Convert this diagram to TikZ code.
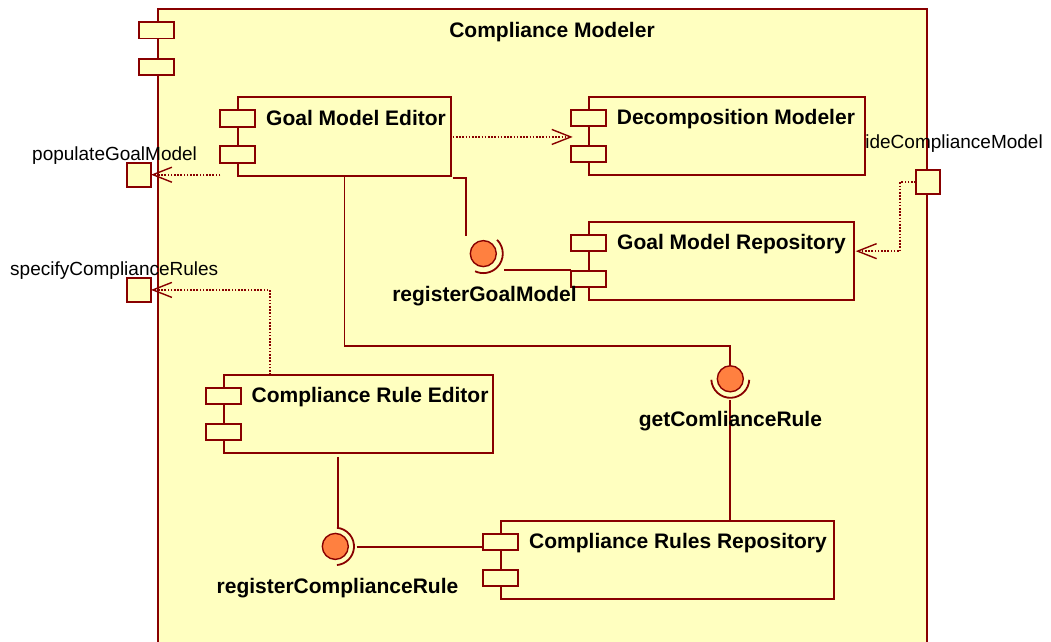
\documentclass[tikz,border=0pt]{standalone}
\usepackage{fontspec}
\setmainfont{Liberation Sans}
\usetikzlibrary{arrows.meta,calc}
\definecolor{umlred}{RGB}{136,0,0}
\definecolor{umlfill}{RGB}{255,255,192}
\definecolor{umlball}{RGB}{255,128,64}
\tikzset{
 compbody/.style={draw=umlred, fill=umlfill, line width=1.8pt, minimum height=78.5pt, inner sep=0pt, outer sep=0pt, anchor=north west},
 portbox/.style={draw=umlred, fill=umlfill, line width=1.8pt, minimum width=35pt, minimum height=16.5pt, inner sep=0pt, outer sep=0pt, anchor=north west},
 extport/.style={draw=umlred, fill=umlfill, line width=1.8pt, minimum width=24pt, minimum height=24pt, inner sep=0pt, outer sep=0pt},
 boldlabel/.style={font=\fontsize{21}{25}\selectfont\bfseries, inner sep=0pt, text=black},
 plainlabel/.style={font=\fontsize{19}{23}\selectfont, inner sep=0pt, text=black},
 conn/.style={draw=umlred, line width=1.8pt},
 dep/.style={draw=umlred, line width=1.6pt, dash pattern=on 1.6pt off 1.6pt, -{Straight Barb[length=19pt,width=15pt,line width=1.4pt]}},
 ball/.style={circle, draw=umlred, fill=umlball, line width=1.4pt, minimum size=26pt, inner sep=0pt, outer sep=0pt},
 socket/.style={draw=umlred, line width=1.8pt},
}
\newcommand{\umlcomp}[5]{%
  \node[compbody, minimum width=#4pt] (#1) at (#2,-#3) {};
  \node[portbox] (#1-p1) at ($(#1.north west)+(-18,-13)$) {};
  \node[portbox] (#1-p2) at ($(#1.north west)+(-18,-49)$) {};
  \node[boldlabel, anchor=base west] (#1-t) at ($(#1.north west)+(27.7,-27.7)$) {#5};
}
\begin{document}
\begin{tikzpicture}[x=1pt,y=1pt]
\useasboundingbox (0,0) rectangle (1051,-641);
\clip (0,0) rectangle (1051,-641);
\fill[white] (0,0) rectangle (1051,-641);
% container
\node[draw=umlred, fill=umlfill, line width=1.8pt, minimum width=769pt, minimum height=660pt, inner sep=0pt, outer sep=0pt, anchor=north west] (cm) at (158,-9.3) {};
\node[boldlabel, anchor=base] (cm-t) at (552,-37.5) {Compliance Modeler};
\node[portbox] (cm-p1) at (139.3,-22) {};
\node[portbox] (cm-p2) at (139.3,-58.7) {};
% external ports and labels
\node[plainlabel, anchor=base west] (pgm-l) at (32,-160.7) {populateGoalModel};
\node[plainlabel, anchor=base west] (scr-l) at (10,-275) {specifyComplianceRules};
\node[plainlabel, anchor=base east] (pcm-l) at (1043,-148.3) {provideComplianceModel};
\node[extport] (pgm) at (139,-174.7) {};
\node[extport] (scr) at (139,-289.9) {};
\node[extport] (pcm) at (927.8,-182) {};
% components
\umlcomp{gme}{238.3}{97.3}{212.4}{Goal Model Editor}
\umlcomp{dm}{589}{96.7}{276}{Decomposition Modeler}
\umlcomp{gmr}{589.3}{221.7}{264.7}{Goal Model Repository}
\umlcomp{cre}{223.7}{374.7}{269}{Compliance Rule Editor}
\umlcomp{crr}{501.3}{520.7}{332.4}{Compliance Rules Repository}
% dependencies
\draw[dep] ($(gme.east |- dm.west)+(2,-1)$) -- ($(dm-p1.west |- dm.west)+(1.7,-1)$);
\draw[dep] (gme-p2.west |- pgm.east) -- (pgm.east);
\draw[dep] ($(cre.north west)+(46.3,0)$) |- (scr.east);
\draw[dep] (pcm.west) -- ++(-15.7,0) |- ($(gmr.east)+(1.7,9.8)$);
% registerGoalModel
\node[ball] (rgm) at (483.3,-253.6) {};
\draw[socket] ($(rgm.center)+(45:19.5)$) arc[start angle=45, end angle=-115, radius=19.5];
\coordinate (rgm-t) at ($(rgm.center)+(-17.3,17.6)$);
\coordinate (rgm-r) at ($(rgm.center)+(20.7,-16.4)$);
\draw[conn] ($(gme.south east)+(2,-2.3)$) -| (rgm-t);
\draw[conn] (rgm-r) -- (rgm-r -| gmr-p2.west);
\node[boldlabel, anchor=base] (rgm-l) at (484.5,-301.7) {registerGoalModel};
% getComlianceRule
\node[ball] (gcr) at (730.3,-378.8) {};
\draw[socket] ($(gcr.center)+(183:19)$) arc[start angle=183, end angle=357, radius=19];
\draw[conn] (gme.south) -- ++(0,-170.3) -| (gcr.north);
\coordinate (gcr-b) at ($(gcr.center)+(0,-21.5)$);
\draw[conn] (gcr-b) -- (gcr-b |- crr.north);
\node[boldlabel, anchor=base] (gcr-l) at (730.4,-426) {getComlianceRule};
% registerComplianceRule
\node[ball] (rcr) at (335.3,-546.4) {};
\draw[socket] ($(rcr.center)+(85:18.7)$) arc[start angle=85, end angle=-85, radius=18.7];
\coordinate (rcr-t) at ($(rcr.center)+(2.7,18.1)$);
\coordinate (rcr-r) at ($(rcr.center)+(21.4,-0.6)$);
\coordinate (cre-d) at ($(rcr-t |- cre.south)+(0,-3.7)$);
\draw[conn] (cre-d) -- (rcr-t);
\draw[conn] (rcr-r) -- (rcr-r -| crr-p1.west);
\node[boldlabel, anchor=base] (rcr-l) at (337.5,-593.3) {registerComplianceRule};
\end{tikzpicture}
\end{document}
